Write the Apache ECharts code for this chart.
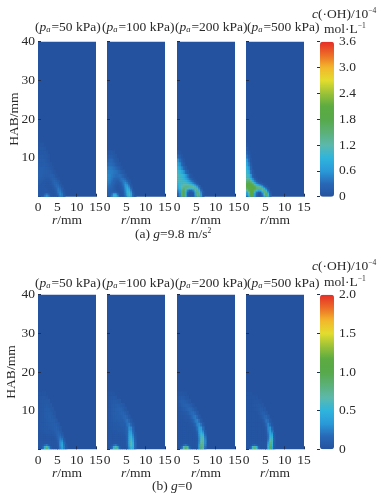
<!DOCTYPE html>
<html>
<head>
<meta charset="utf-8">
<style>
  html, body { margin: 0; padding: 0; background: #fff; }
  #main { width: 381px; height: 495px; }
</style>
<script src="https://cdn.jsdelivr.net/npm/echarts@6/dist/echarts.min.js"></script>
</head>
<body>
<div id="main"></div>
<script>
// lower edge of each data row, mm above the burner
var habEdges = [0, .5, 1, 1.5, 2, 2.5, 3, 3.5, 4, 4.5, 5, 6, 7, 8, 9, 10, 11, 12, 13, 14, 15, 16];
// columns go from r=0 in 0.5 mm steps, rows may stop early (rest is 0)
var rStep = 0.5;
var pressures = ['50', '100', '200', '500'];

// (a) g=9.8, 10^-4 mol/L
var a50 = [
  [.1,.1,.1,.4,.6,.4,.1,.05,.05,.08,.25,.45,.4,.15],
  [.1,.1,.1,.25,.4,.25,.1,.05,.05,.12,.32,.5,.38,.12],
  [.1,.1,.1,.1,.1,.1,.05,.05,.08,.15,.38,.45,.28,.08],
  [.1,.1,.1,.1,.1,.05,.05,.05,.1,.2,.4,.38,.2,.05],
  [.1,.1,.1,.1,.05,.05,.05,.08,.14,.26,.38,.3,.14],
  [.1,.1,.1,.05,.05,.05,.06,.1,.2,.3,.32,.2,.06],
  [.12,.1,.1,.1,.05,.05,.1,.14,.24,.3,.25,.12],
  [.14,.12,.1,.1,.06,.06,.1,.18,.25,.25,.18,.06],
  [.16,.14,.12,.1,.1,.1,.12,.2,.24,.2,.12],
  [.18,.16,.14,.12,.1,.1,.14,.2,.2,.14,.06],
  [.2,.18,.16,.14,.14,.14,.18,.18,.12,.06],
  [.2,.18,.18,.16,.16,.14,.14,.1,.05],
  [.16,.18,.18,.16,.14,.12,.1,.05],
  [.14,.14,.14,.14,.12,.1,.05],
  [.12,.14,.14,.12,.1,.05],
  [.1,.12,.12,.1,.08,.05],
  [.06,.1,.1,.08,.05],
  [.05,.08,.08,.05],
  [.03,.05,.05]
];
var a100 = [
  [.2,.2,.45,1,1,.55,.1,.05,.1,.35,.8,1.1,.8,.25,.05],
  [.2,.2,.35,.8,.8,.35,.1,.05,.12,.4,.85,1.1,.75,.2],
  [.22,.2,.22,.25,.25,.12,.05,.05,.15,.45,.9,1,.6,.12],
  [.25,.22,.2,.16,.12,.06,.05,.08,.2,.5,.9,.85,.42,.06],
  [.3,.25,.2,.16,.1,.06,.06,.12,.26,.55,.85,.65,.25],
  [.34,.3,.24,.16,.1,.06,.08,.14,.32,.6,.72,.45,.12],
  [.4,.34,.26,.2,.12,.1,.12,.2,.38,.6,.55,.28,.05],
  [.44,.4,.3,.24,.16,.12,.14,.26,.42,.52,.38,.16],
  [.48,.42,.34,.26,.2,.16,.24,.34,.42,.38,.22,.1],
  [.5,.45,.38,.3,.24,.24,.3,.36,.34,.26,.1],
  [.5,.46,.4,.36,.32,.32,.34,.28,.2,.1],
  [.46,.44,.42,.38,.36,.32,.24,.15,.1],
  [.4,.4,.38,.34,.28,.2,.15,.05],
  [.32,.32,.3,.24,.16,.1,.05],
  [.22,.26,.24,.16,.1,.05],
  [.14,.16,.14,.1,.05],
  [.07,.1,.08,.05]
];
var a200 = [
  [.3,.5,1.6,1.9,1,.2,.1,.1,.1,.6,1.4,1.5,.7,.1],
  [.3,.5,1.6,1.9,.9,.2,.1,.1,.1,.7,1.4,1.4,.6,.1],
  [.4,.6,1.6,1.8,.9,.3,.1,.1,.2,.8,1.5,1.3,.5,.1],
  [.5,.7,1.5,1.7,1.1,.5,.3,.3,.5,1.1,1.4,.9,.3],
  [.7,.9,1.3,1.5,1.4,1.1,1,1,1.1,1.3,1.1,.5,.1],
  [.8,1,1.2,1.3,1.4,1.4,1.3,1.3,1.2,1,.6,.2],
  [.9,1,1.1,1.2,1.2,1.2,1.1,1,.8,.5,.2],
  [1,1.05,1.05,1.1,1.05,.95,.8,.6,.4,.2,.05],
  [1.1,1.1,1.05,1,.9,.75,.55,.35,.18,.05],
  [1.1,1.05,1,.9,.75,.55,.35,.18,.05],
  [1.1,1,.95,.85,.6,.4,.15,.05],
  [1,.9,.75,.55,.3,.12],
  [.85,.7,.5,.3,.12],
  [.7,.55,.3,.12],
  [.55,.35,.18,.05],
  [.3,.18,.06],
  [.12,.06]
];
var a500 = [
  [.5,.9,1.8,1.8,.7,.2,.1,.1,.3,.9,1.5,1,.3],
  [.6,1,1.8,1.8,.7,.3,.1,.1,.4,1.2,1.6,1,.2],
  [.8,1.2,1.9,1.9,1,.4,.2,.2,.7,1.4,1.4,.6,.1],
  [1.2,1.6,2,2,1.5,1,.7,.8,1.2,1.4,.9,.3],
  [1.6,1.9,2.1,2,1.8,1.5,1.4,1.4,1.3,.9,.4,.1],
  [1.8,2,2,1.9,1.7,1.4,1.3,1.1,.7,.3,.1],
  [1.8,1.9,1.9,1.7,1.3,.9,.6,.4,.2,.05],
  [1.6,1.7,1.6,1.3,.8,.4,.2,.1],
  [1.4,1.5,1.3,.8,.4,.15,.05],
  [1.2,1.3,.9,.5,.2,.05],
  [1.1,1,.6,.2,.05],
  [1,.85,.35,.1],
  [.9,.65,.22],
  [.75,.45,.12],
  [.6,.32,.06],
  [.38,.18],
  [.25,.08],
  [.14],
  [.06]
];

// (b) g=0
var b50 = [
  [.03,.03,.15,.55,.85,.55,.15,.03,.03,.03,.06,.25,.38,.22,.06],
  [.03,.03,.12,.45,.7,.4,.1,.03,.03,.03,.08,.28,.42,.22,.06],
  [.03,.03,.05,.15,.22,.1,.03,.03,.03,.03,.08,.3,.42,.2,.05],
  [.03,.03,.03,.03,.03,.03,.03,.03,.03,.03,.1,.3,.38,.16],
  [.03,.03,.03,.03,.03,.03,.03,.03,.03,.04,.12,.28,.3,.1],
  [.03,.03,.03,.03,.03,.03,.03,.03,.03,.06,.15,.24,.22,.06],
  [.03,.03,.03,.03,.03,.03,.03,.03,.04,.08,.15,.2,.14],
  [.03,.03,.03,.03,.04,.04,.04,.05,.06,.1,.15,.15,.08],
  [.03,.03,.03,.04,.05,.05,.05,.06,.07,.11,.14,.11,.05],
  [.03,.03,.04,.05,.06,.06,.06,.06,.08,.11,.12,.08],
  [.03,.04,.05,.06,.06,.07,.07,.08,.1,.11,.09,.05],
  [.03,.04,.05,.06,.07,.07,.08,.09,.1,.09,.06],
  [.03,.04,.05,.06,.07,.08,.09,.09,.09,.06],
  [.03,.04,.05,.07,.08,.09,.09,.08,.06],
  [.03,.04,.05,.07,.08,.09,.08,.06,.04],
  [.03,.04,.05,.07,.08,.08,.06,.05],
  [.03,.04,.05,.06,.07,.06,.05],
  [.02,.04,.05,.05,.05,.05],
  [.02,.03,.04,.04,.03],
  [.02,.02,.02,.02]
];
var b100 = [
  [.03,.05,.15,.55,.85,.55,.15,.03,.03,.03,.08,.3,.55,.45,.12],
  [.03,.05,.12,.45,.7,.42,.1,.03,.03,.03,.1,.35,.6,.5,.14],
  [.03,.03,.05,.15,.22,.1,.03,.03,.03,.03,.12,.4,.65,.5,.15],
  [.03,.03,.03,.03,.03,.03,.03,.03,.03,.03,.14,.42,.65,.48,.14],
  [.03,.03,.03,.03,.03,.03,.03,.03,.03,.04,.14,.42,.62,.42,.12],
  [.03,.03,.03,.03,.03,.03,.03,.03,.03,.04,.14,.42,.58,.36,.1],
  [.03,.03,.03,.03,.03,.03,.03,.03,.03,.05,.14,.42,.52,.3,.08],
  [.03,.03,.03,.03,.03,.03,.03,.04,.04,.06,.14,.4,.46,.25,.06],
  [.03,.03,.03,.03,.04,.04,.04,.04,.05,.08,.14,.38,.4,.2,.05],
  [.03,.03,.03,.04,.04,.05,.05,.05,.06,.09,.14,.35,.34,.16],
  [.03,.03,.04,.05,.05,.06,.06,.06,.07,.1,.15,.3,.28,.12],
  [.03,.04,.05,.06,.06,.07,.07,.08,.09,.1,.2,.24,.14,.05],
  [.03,.04,.06,.07,.08,.08,.09,.09,.1,.16,.2,.14,.06],
  [.04,.05,.06,.08,.09,.1,.1,.1,.14,.16,.12,.06],
  [.04,.05,.07,.09,.1,.1,.11,.13,.13,.1,.06],
  [.04,.05,.07,.09,.1,.11,.12,.11,.08,.05],
  [.03,.05,.07,.08,.09,.1,.09,.07,.05],
  [.03,.05,.06,.07,.07,.06,.05],
  [.03,.03,.04,.05,.04],
  [.02,.02,.03,.02]
];
var b200 = [
  [.02,.03,.2,.7,.95,.7,.2,.03,.02,.02,.05,.35,.85,.7,.15],
  [.02,.03,.15,.6,.85,.55,.12,.03,.02,.02,.06,.4,.85,.75,.2],
  [.02,.02,.03,.12,.2,.1,.03,.02,.02,.02,.06,.35,.8,.75,.25],
  [.02,.02,.02,.02,.02,.02,.02,.02,.02,.02,.05,.3,.7,.72,.28],
  [.02,.02,.02,.02,.02,.02,.02,.02,.02,.02,.05,.28,.65,.7,.28],
  [.02,.02,.02,.02,.02,.02,.02,.02,.02,.02,.05,.28,.62,.68,.26],
  [.02,.02,.02,.02,.02,.02,.02,.02,.02,.02,.06,.3,.6,.62,.22],
  [.02,.02,.02,.02,.02,.02,.02,.02,.02,.03,.08,.32,.58,.52,.16],
  [.02,.02,.02,.02,.02,.02,.02,.02,.02,.03,.1,.35,.52,.4,.1],
  [.02,.02,.02,.02,.02,.02,.02,.02,.03,.04,.14,.36,.44,.28,.06],
  [.02,.02,.02,.02,.02,.02,.02,.03,.04,.07,.2,.36,.36,.18],
  [.02,.02,.02,.02,.02,.02,.03,.04,.07,.14,.26,.3,.2,.06],
  [.02,.02,.02,.02,.03,.03,.04,.07,.13,.22,.26,.18,.06],
  [.02,.02,.03,.03,.04,.05,.07,.13,.2,.22,.16,.06],
  [.02,.03,.04,.05,.06,.08,.13,.17,.18,.13,.06],
  [.03,.04,.06,.08,.1,.13,.15,.14,.1,.05],
  [.04,.06,.09,.11,.12,.12,.1,.07,.03],
  [.05,.08,.1,.1,.09,.07,.04],
  [.05,.06,.07,.06,.04,.03],
  [.03,.03,.03,.03,.02]
];
var b500 = [
  [.02,.02,.15,.6,.85,.6,.15,.02,.02,.02,.03,.5,.9,.4,.05],
  [.02,.02,.12,.55,.75,.5,.1,.02,.02,.02,.04,.55,.9,.45,.06],
  [.02,.02,.02,.1,.15,.08,.02,.02,.02,.02,.04,.45,.85,.5,.08],
  [.02,.02,.02,.02,.02,.02,.02,.02,.02,.02,.03,.35,.8,.55,.08],
  [.02,.02,.02,.02,.02,.02,.02,.02,.02,.02,.03,.28,.7,.58,.1],
  [.02,.02,.02,.02,.02,.02,.02,.02,.02,.02,.03,.22,.6,.56,.1],
  [.02,.02,.02,.02,.02,.02,.02,.02,.02,.02,.03,.2,.52,.5,.08],
  [.02,.02,.02,.02,.02,.02,.02,.02,.02,.02,.04,.2,.46,.42,.06],
  [.02,.02,.02,.02,.02,.02,.02,.02,.02,.02,.05,.22,.42,.32,.05],
  [.02,.02,.02,.02,.02,.02,.02,.02,.02,.02,.06,.26,.38,.22],
  [.02,.02,.02,.02,.02,.02,.02,.02,.02,.02,.08,.28,.32,.14],
  [.02,.02,.02,.02,.02,.02,.02,.02,.02,.05,.16,.26,.16,.04],
  [.02,.02,.02,.02,.02,.02,.02,.02,.04,.1,.2,.18,.06],
  [.02,.02,.02,.02,.02,.02,.02,.04,.08,.14,.15,.08],
  [.02,.02,.02,.02,.02,.02,.04,.07,.1,.1,.06],
  [.02,.02,.02,.02,.03,.04,.05,.07,.07,.05],
  [.02,.02,.02,.03,.04,.04,.05,.05,.04],
  [.02,.02,.02,.02,.03,.03,.03,.02],
  [.02,.02,.02,.02,.02,.02],
  [.02,.02,.02]
];

var topPanels = [a50, a100, a200, a500];
var bottomPanels = [b50, b100, b200, b500];

var rTicks = { min: 0, max: 15, interval: 5 };
var habTicks = { min: 0, max: 40, interval: 10 };
var topScale = { min: 0, max: 3.6, interval: 0.6 };
var bottomScale = { min: 0, max: 2, interval: 0.5 };

var colorRamp = ['#24529f', '#2868b6', '#2a9ad8', '#2fb4dd', '#5cb9ac', '#5bb077', '#57a94a', '#5cab42', '#9cc238', '#e3dc2f', '#f3b72b', '#ec6b27', '#e62d27'];
var fontName = 'Liberation Serif';
var inkColor = '#2a2a2a';
var panelColor = '#24529f';
var panelLeft = [38, 107, 177, 246];
var panelWidth = 58;

function toCells(rows) {
  var cells = [];
  rows.forEach(function (row, i) {
    row.forEach(function (v, j) {
      if (v > 0) cells.push([j * rStep, habEdges[i], habEdges[i + 1], v]);
    });
  });
  return cells;
}

function drawCell(params, api) {
  var a = api.coord([api.value(0), api.value(1)]);
  var b = api.coord([api.value(0) + rStep, api.value(2)]);
  return {
    type: 'rect',
    shape: { x: a[0], y: b[1], width: b[0] - a[0] + 0.5, height: a[1] - b[1] + 0.5 },
    style: { fill: api.visual('color') }
  };
}

var grids = [], xAxes = [], yAxes = [], series = [], titles = [];

function baseText() {
  return { fontFamily: fontName, fontSize: 13.5, color: inkColor };
}

function addRow(panels, top, height, scale, namePrefix) {
  var seriesIdx = [];
  panels.forEach(function (rows, k) {
    var idx = grids.length;
    grids.push({
      left: panelLeft[k], top: top, width: panelWidth, height: height,
      show: true, backgroundColor: panelColor, borderWidth: 0
    });
    xAxes.push({
      type: 'value', gridIndex: idx, min: rTicks.min, max: rTicks.max, interval: rTicks.interval,
      name: '{i|r}/mm', nameLocation: 'middle', nameGap: 17, nameMoveOverlap: false,
      nameTextStyle: Object.assign(baseText(), { rich: { i: { fontStyle: 'italic', fontFamily: fontName, fontSize: 13.5, color: inkColor } } }),
      axisLine: { show: false }, splitLine: { show: false },
      axisTick: { inside: true, length: 3, lineStyle: { color: '#1d2f55', width: 1 } },
      axisLabel: Object.assign(baseText(), { margin: 4, showMinLabel: true, showMaxLabel: true, hideOverlap: false })
    });
    yAxes.push({
      type: 'value', gridIndex: idx, min: habTicks.min, max: habTicks.max, interval: habTicks.interval,
      name: k === 0 ? 'HAB/mm' : '', nameLocation: 'middle', nameGap: namePrefix === 'a' ? 17 : 20, nameMoveOverlap: false,
      nameRotate: 90, nameTextStyle: baseText(),
      axisLine: { show: false }, splitLine: { show: false },
      axisTick: { inside: true, length: 3, lineStyle: { color: '#1d2f55', width: 1 } },
      axisLabel: Object.assign(baseText(), {
        show: k === 0, margin: 3,
        formatter: function (v) { return v === 0 ? '' : v; }
      })
    });
    seriesIdx.push(series.length);
    series.push({
      type: 'custom', xAxisIndex: idx, yAxisIndex: idx, coordinateSystem: 'cartesian2d',
      renderItem: drawCell, clip: true, silent: true,
      encode: { x: 0, y: [1, 2] },
      data: toCells(rows)
    });
  });

  // tick axis that sits on the colour bar
  var barIdx = grids.length;
  grids.push({ left: 320, top: top, width: 14, height: height, show: false });
  xAxes.push({ type: 'value', gridIndex: barIdx, show: false, min: 0, max: 1 });
  yAxes.push({
    type: 'value', gridIndex: barIdx, position: 'right', z: 10,
    min: scale.min, max: scale.max, interval: scale.interval,
    axisLine: { show: false }, splitLine: { show: false },
    axisTick: { inside: true, length: 3, lineStyle: { color: '#1d2f55', width: 1 } },
    axisLabel: Object.assign(baseText(), {
      margin: 5,
      formatter: function (v) { return v === 0 ? '0' : v.toFixed(1); }
    })
  });

  return {
    type: 'continuous', min: scale.min, max: scale.max, dimension: 3,
    seriesIndex: seriesIdx, calculable: false, show: true, text: null, padding: 0,
    left: 320, top: top, itemWidth: 14, itemHeight: height,
    inRange: { color: colorRamp }
  };
}

var vmTop = addRow(topPanels, 41.7, 155, topScale, 'a');
var vmBottom = addRow(bottomPanels, 294.7, 154.6, bottomScale, 'b');

var richText = {
  i: { fontFamily: fontName, fontSize: 13.5, fontStyle: 'italic', color: inkColor },
  n: { fontFamily: fontName, fontSize: 13.5, color: inkColor },
  s: { fontFamily: fontName, fontSize: 8.5, fontStyle: 'italic', color: inkColor, verticalAlign: 'bottom', padding: [5, 1, 0, 0] },
  u: { fontFamily: fontName, fontSize: 7.5, color: inkColor, verticalAlign: 'top', padding: [0, 0, 5, 0] }
};

function addTitle(text, left, top) {
  titles.push({
    text: text, left: left, top: top, padding: 0, itemGap: 0,
    textStyle: { fontFamily: fontName, fontSize: 13.5, fontWeight: 'normal', color: inkColor, rich: richText }
  });
}

var headLeft = [35, 102, 175, 247];
[[20, 7, 22], [276, 259, 275]].forEach(function (y, row) {
  pressures.forEach(function (p, k) {
    addTitle('{n|(}{i|p}{s|a}{n|=' + p + ' kPa)}', headLeft[k], y[0]);
  });
  addTitle('{i|c}{n|(·OH)/10}{u|−4}', 312, y[1]);
  addTitle('{n|mol·L}{u|−1}', 324, y[2]);
});
addTitle('{n|(a) }{i|g}{n|=9.8 m/s}{u|2}', 135, 227);
addTitle('{n|(b) }{i|g}{n|=0}', 152, 479);

var chart = echarts.init(document.getElementById('main'), null, { renderer: 'canvas' });
chart.setOption({
  animation: false,
  backgroundColor: '#fff',
  title: titles,
  grid: grids,
  xAxis: xAxes,
  yAxis: yAxes,
  visualMap: [vmTop, vmBottom],
  series: series
});
</script>
</body>
</html>
